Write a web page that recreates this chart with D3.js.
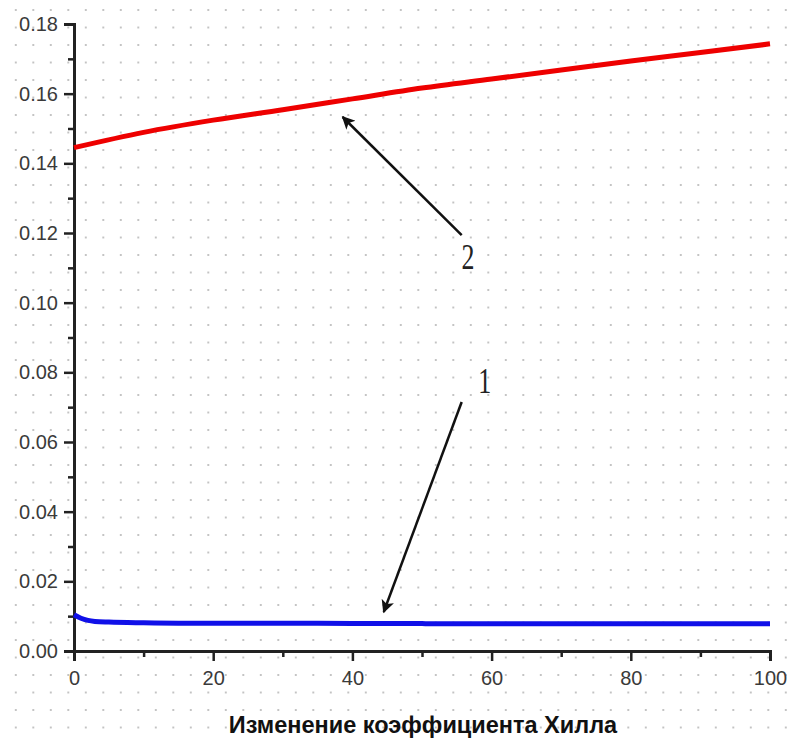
<!DOCTYPE html>
<html>
<head>
<meta charset="utf-8">
<script src="https://cdn.jsdelivr.net/npm/d3@7"></script>
<style>
  body { margin: 0; background: #fff; }
  .tick text { font-family: "Liberation Sans", Arial, sans-serif; font-size: 20px; fill: #3a3a3a; }
  .axisTitle { font-family: "Liberation Sans", Arial, sans-serif; font-size: 23.5px; font-weight: bold; fill: #111; }
  .curveLabel { font-family: "Liberation Serif", "Times New Roman", serif; font-size: 36px; fill: #222; }
</style>
</head>
<body>
<div id="chart"></div>
<script>
// data
var hill = [0, 1, 2, 3, 5, 10, 15, 20, 30, 40, 50, 51, 60, 70, 80, 90, 100];
var curve1 = [0.0104, 0.0094, 0.0088, 0.0085, 0.0083, 0.0081, 0.0080, 0.0080, 0.0080, 0.0079, 0.0079, 0.0078, 0.0078, 0.0078, 0.0078, 0.0078, 0.0078];
var curve2x = [0, 10, 20, 30, 40, 50, 60, 70, 80, 90, 100];
var curve2 = [0.1445, 0.1489, 0.1524, 0.1554, 0.1585, 0.1616, 0.1642, 0.1668, 0.1694, 0.1718, 0.1743];

var xTicks = [0, 20, 40, 60, 80, 100];
var xMinor = [10, 30, 50, 70, 90];
var yTicks = [0, 0.02, 0.04, 0.06, 0.08, 0.10, 0.12, 0.14, 0.16, 0.18];
var yMinor = [0.01, 0.03, 0.05, 0.07, 0.09, 0.11, 0.13, 0.15, 0.17];

// arrows: label, tail (x, y), tip (x, y), text position
var arrowLabels = ["1", "2"];
var arrowTail = [[55.7, 0.0715], [55.7, 0.1194]];
var arrowTip = [[44.5, 0.0112], [38.6, 0.1533]];
var labelPos = [[59.0, 0.0740], [56.6, 0.1096]];

var xTitle = "Изменение коэффициента Хилла";

var svgWidth = 788;
var svgHeight = 741;
var margin = { top: 24, right: 18, bottom: 90, left: 74 };
var width = svgWidth - margin.left - margin.right;
var height = svgHeight - margin.top - margin.bottom;

var root = d3.select("#chart")
  .append("svg")
  .attr("width", svgWidth)
  .attr("height", svgHeight);

// dotted background
var defs = root.append("defs");
var pat = defs.append("pattern")
  .attr("id", "dots")
  .attr("patternUnits", "userSpaceOnUse")
  .attr("x", 15.8 - 8.75)
  .attr("y", 10 - 8.75)
  .attr("width", 17.5)
  .attr("height", 17.5);
pat.append("circle")
  .attr("cx", 8.75)
  .attr("cy", 8.75)
  .attr("r", 0.9)
  .attr("fill", "#a8a8a8");

defs.append("marker")
  .attr("id", "head")
  .attr("viewBox", "0 0 10 10")
  .attr("refX", 9)
  .attr("refY", 5)
  .attr("markerUnits", "userSpaceOnUse")
  .attr("markerWidth", 18)
  .attr("markerHeight", 13)
  .attr("orient", "auto")
  .append("path")
  .attr("d", "M0,0 L10,5 L0,10 L2.5,5 Z")
  .attr("fill", "#111");

root.append("rect")
  .attr("width", svgWidth)
  .attr("height", svgHeight)
  .attr("fill", "url(#dots)");

var svg = root.append("g")
  .attr("transform", "translate(" + margin.left + "," + margin.top + ")");

var x = d3.scaleLinear().domain([0, 100]).range([0, width]);
var y = d3.scaleLinear().domain([0, 0.18]).range([height, 0]);

// axes
svg.append("g")
  .call(d3.axisLeft(y).tickValues(yTicks).tickFormat(d3.format(".2f")).tickSize(10).tickPadding(6));
svg.append("g")
  .call(d3.axisLeft(y).tickValues(yMinor).tickFormat("").tickSize(6))
  .select(".domain").remove();

svg.append("g")
  .attr("transform", "translate(0," + height + ")")
  .call(d3.axisBottom(x).tickValues(xTicks).tickFormat(d3.format("d")).tickSize(10).tickPadding(10));
svg.append("g")
  .attr("transform", "translate(0," + height + ")")
  .call(d3.axisBottom(x).tickValues(xMinor).tickFormat("").tickSize(6))
  .select(".domain").remove();

svg.selectAll(".domain")
  .attr("stroke", "#222")
  .attr("stroke-width", 3);
svg.selectAll(".tick line")
  .attr("stroke", "#222")
  .attr("stroke-width", 2.5);

// curves
var line = d3.line()
  .x(function(d) { return x(d[0]); })
  .y(function(d) { return y(d[1]); })
  .curve(d3.curveMonotoneX);

svg.append("path")
  .datum(curve2x.map(function(v, i) { return [v, curve2[i]]; }))
  .attr("d", line)
  .attr("fill", "none")
  .attr("stroke", "#ee0000")
  .attr("stroke-width", 5);

svg.append("path")
  .datum(hill.map(function(v, i) { return [v, curve1[i]]; }))
  .attr("d", line)
  .attr("fill", "none")
  .attr("stroke", "#1010e8")
  .attr("stroke-width", 5);

// annotation arrows
arrowLabels.forEach(function(lbl, i) {
  svg.append("line")
    .attr("x1", x(arrowTail[i][0]))
    .attr("y1", y(arrowTail[i][1]))
    .attr("x2", x(arrowTip[i][0]))
    .attr("y2", y(arrowTip[i][1]))
    .attr("stroke", "#111")
    .attr("stroke-width", 2.5)
    .attr("marker-end", "url(#head)");

  svg.append("text")
    .attr("class", "curveLabel")
    .attr("text-anchor", "middle")
    .attr("transform", "translate(" + x(labelPos[i][0]) + "," + y(labelPos[i][1]) + ") scale(0.72,1)")
    .text(lbl);
});

// x axis title
svg.append("text")
  .attr("class", "axisTitle")
  .attr("text-anchor", "middle")
  .attr("x", x(50) + 1)
  .attr("y", height + 82)
  .text(xTitle);
</script>
</body>
</html>
